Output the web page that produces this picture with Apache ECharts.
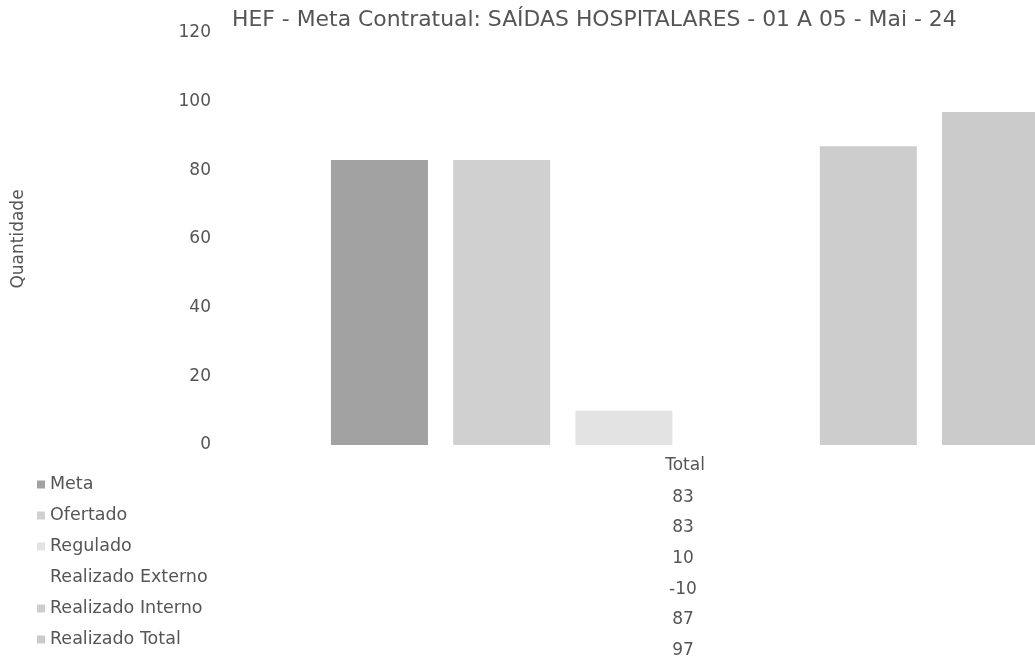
<!DOCTYPE html>
<html>
<head>
<meta charset="utf-8">
<script src="https://cdn.jsdelivr.net/npm/echarts@6/dist/echarts.min.js"></script>
<style>
  html, body { margin: 0; padding: 0; background: #fff; }
  #main { width: 1035px; height: 659px; }
</style>
</head>
<body>
<div id="main"></div>
<script>
// dados do grafico
var titulo = 'HEF - Meta Contratual: SAÍDAS HOSPITALARES - 01 A 05 - Mai - 24';
var categorias = ['Total'];
var seriesNomes = ['Meta', 'Ofertado', 'Regulado', 'Realizado Externo', 'Realizado Interno', 'Realizado Total'];
var valores = [83, 83, 10, -10, 87, 97];
var cores = ['#a2a2a2', '#d0d0d0', '#e3e3e3', '#ffffff', '#cdcdcd', '#cbcbcb'];
var yTicks = [0, 20, 40, 60, 80, 100, 120];

var FONT = 'DejaVu Sans';
var TXT = '#555';

var myChart = echarts.init(document.getElementById('main'));

var series = seriesNomes.map(function (nome, i) {
    return {
        name: nome,
        type: 'bar',
        xAxisIndex: 0,
        yAxisIndex: 0,
        barWidth: 97,
        barGap: '26%',
        itemStyle: { color: cores[i] },
        data: [valores[i]]
    };
});
// tabela de dados (coluna Total)
series.push({
    type: 'scatter',
    xAxisIndex: 1,
    yAxisIndex: 1,
    symbolSize: 0,
    silent: true,
    itemStyle: { opacity: 1 },
    label: {
        show: true,
        position: 'inside',
        color: TXT,
        fontFamily: FONT,
        fontSize: 17,
        formatter: function (p) { return p.data[2]; }
    },
    data: valores.map(function (v, i) { return [0.5, i, v]; })
});

var option = {
    animation: false,
    backgroundColor: '#fff',
    title: {
        text: titulo,
        left: 227,
        top: 4,
        textStyle: { color: TXT, fontFamily: FONT, fontSize: 21.9, fontWeight: 'normal' }
    },
    legend: {
        orient: 'vertical',
        left: 37,
        top: 469,
        padding: 0,
        itemGap: 0,
        itemWidth: 8,
        itemHeight: 8,
        icon: 'rect',
        data: seriesNomes,
        textStyle: { color: TXT, fontFamily: FONT, fontSize: 17.5, lineHeight: 31 }
    },
    grid: [
        { left: 222, width: 926, top: 33, bottom: 214, outerBoundsMode: 'none', containLabel: false },
        { left: 222, width: 922, top: 482, height: 184, outerBoundsMode: 'none', containLabel: false }
    ],
    xAxis: [
        {
            type: 'category',
            gridIndex: 0,
            data: categorias,
            axisLine: { show: false },
            axisTick: { show: false },
            axisLabel: { color: TXT, fontFamily: FONT, fontSize: 17, margin: 12 }
        },
        { type: 'value', gridIndex: 1, min: 0, max: 1, show: false }
    ],
    yAxis: [
        {
            type: 'value',
            gridIndex: 0,
            min: yTicks[0],
            max: yTicks[yTicks.length - 1],
            interval: 20,
            name: 'Quantidade',
            nameLocation: 'middle',
            nameGap: 195,
            nameTextStyle: { color: TXT, fontFamily: FONT, fontSize: 17 },
            axisLine: { show: false },
            axisTick: { show: false },
            splitLine: { show: false },
            axisLabel: { color: TXT, fontFamily: FONT, fontSize: 17, margin: 11 }
        },
        {
            type: 'category',
            gridIndex: 1,
            inverse: true,
            data: seriesNomes,
            show: false
        }
    ],
    series: series
};
myChart.setOption(option);
</script>
</body>
</html>
